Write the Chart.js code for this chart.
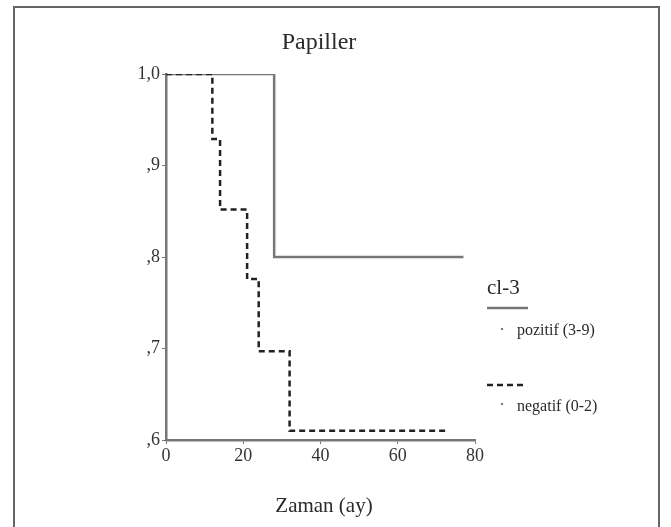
<!DOCTYPE html>
<html>
<head>
<meta charset="utf-8">
<script src="https://cdn.jsdelivr.net/npm/chart.js@4"></script>
<style>
  body { margin: 0; background: #fff; }
  #wrap { position: relative; width: 671px; height: 527px; }
  #frame { position: absolute; left: 13px; top: 6px; width: 647px; height: 530px; border: 2px solid #666; box-sizing: border-box; }
  canvas { position: absolute; left: 0; top: 0; }
</style>
</head>
<body>
<div id="wrap">
  <div id="frame"></div>
  <canvas id="grafico" width="671" height="527"></canvas>
</div>
<script>
// Kaplan-Meier egrileri, zaman (ay) ve sagkalim
const pozZaman = [0, 28, 77];
const pozDeger = [1, 0.8, 0.8];
const negZaman = [0, 12, 14, 21, 24, 32, 73];
const negDeger = [1, 0.929, 0.852, 0.776, 0.697, 0.61, 0.61];
const xTicks = [0, 20, 40, 60, 80];
const yTicks = [0.6, 0.7, 0.8, 0.9, 1.0];

const toPoints = (xs, ys) => xs.map((x, i) => ({ x: x, y: ys[i] }));

const serif = "'Liberation Serif', 'Times New Roman', serif";

// baslik, eksen adi ve gosterge
const extraText = {
  id: "extraText",
  afterDraw(chart) {
    const ctx = chart.ctx;
    ctx.save();
    ctx.fillStyle = "#2a2a2a";
    ctx.textAlign = "center";
    ctx.textBaseline = "alphabetic";
    ctx.font = "24px " + serif;
    ctx.fillText("Papiller", 319, 49);
    ctx.font = "21px " + serif;
    ctx.fillText("Zaman (ay)", 324, 512);

    ctx.textAlign = "left";
    ctx.font = "21px " + serif;
    ctx.fillText("cl-3", 487, 294);
    ctx.strokeStyle = "#777";
    ctx.lineWidth = 2.5;
    ctx.beginPath();
    ctx.moveTo(487, 308);
    ctx.lineTo(528, 308);
    ctx.stroke();
    ctx.font = "16px " + serif;
    ctx.fillText("pozitif (3-9)", 517, 335);
    ctx.fillText("negatif (0-2)", 517, 411);
    ctx.fillStyle = "#777";
    ctx.fillRect(501, 328, 2, 2);
    ctx.fillRect(501, 403, 2, 2);
    ctx.strokeStyle = "#222";
    ctx.lineWidth = 2.5;
    ctx.setLineDash([6, 4]);
    ctx.beginPath();
    ctx.moveTo(487, 385);
    ctx.lineTo(527, 385);
    ctx.stroke();
    ctx.restore();
  }
};

new Chart(document.getElementById("grafico"), {
  type: "scatter",
  data: {
    datasets: [
      {
        label: "negatif (0-2)",
        data: toPoints(negZaman, negDeger),
        showLine: true,
        stepped: true,
        borderColor: "#222",
        borderWidth: 2.5,
        borderDash: [6, 4],
        pointRadius: 0,
      },
      {
        label: "pozitif (3-9)",
        data: toPoints(pozZaman, pozDeger),
        showLine: true,
        stepped: true,
        borderColor: "#777",
        borderWidth: 2.5,
        pointRadius: 0,
      },
    ],
  },
  plugins: [extraText],
  options: {
    responsive: false,
    animation: false,
    layout: { padding: { left: 126, top: 74, right: 196, bottom: 57 } },
    plugins: {
      legend: { display: false },
      tooltip: { enabled: false },
    },
    scales: {
      x: {
        type: "linear",
        min: 0,
        max: 80,
        afterFit: (s) => { s.height = 30; },
        afterBuildTicks: (s) => { s.ticks = xTicks.map((v) => ({ value: v })); },
        grid: { display: true, drawOnChartArea: false, drawTicks: true, tickLength: 4, color: "#777" },
        border: { display: true, color: "#777", width: 2.5 },
        ticks: { color: "#333", font: { family: serif, size: 18 }, padding: 1 },
      },
      y: {
        type: "linear",
        min: 0.6,
        max: 1.0,
        afterFit: (s) => { s.width = 40; },
        afterBuildTicks: (s) => { s.ticks = yTicks.map((v) => ({ value: v })); },
        grid: { display: true, drawOnChartArea: false, drawTicks: true, tickLength: 4, color: "#777" },
        border: { display: true, color: "#777", width: 2.5 },
        ticks: {
          color: "#333",
          font: { family: serif, size: 18 },
          padding: 2,
          callback: (v) => (v >= 0.99 ? "1,0" : "," + Math.round(v * 10)),
        },
      },
    },
  },
});
</script>
</body>
</html>
